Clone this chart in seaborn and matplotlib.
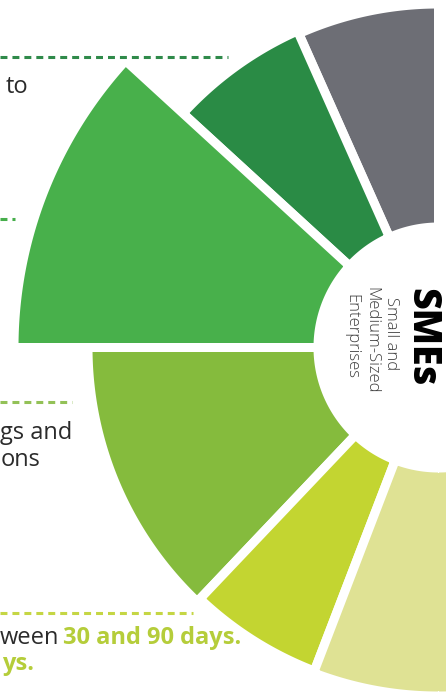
import numpy as np
import pandas as pd
import matplotlib
matplotlib.use("Agg")
import matplotlib.pyplot as plt
import seaborn as sns

# ---------------- data ----------------
segment_names = ["Segment 1", "Segment 2", "Segment 3", "Segment 4", "Segment 5", "Segment 6"]
segment_start_deg = [90, 114, 137.5, 180, 226.5, 249]
segment_end_deg = [114, 137.5, 180, 226.5, 249, 276]
segment_outer = [339, 342, 420, 346, 342, 344]
inner_radius = 125
segment_colors = ["#6D6E75", "#2A8B45", "#48B04B", "#85BB3D", "#C3D531", "#DFE294"]

center_title = "SMEs"
center_lines = ["Small and", "Medium-Sized", "Enterprises"]

leader_y = [57, 219, 402, 613]
leader_x_end = [228, 15, 72, 193]
leader_colors = ["#2F8A4A", "#46AE4B", "#93C157", "#C5D644"]

df = pd.DataFrame({
    "name": segment_names,
    "start": segment_start_deg,
    "end": segment_end_deg,
    "outer": segment_outer,
    "color": segment_colors,
})

# ---------------- style ----------------
sns.set_theme(style="white")
plt.rcParams["font.family"] = ["Open Sans", "DejaVu Sans"]
plt.rcParams["lines.scale_dashes"] = False

W, H, DPI = 446, 698, 100
fig = plt.figure(figsize=(W / DPI, H / DPI), dpi=DPI)
fig.patch.set_facecolor("white")

cx, cy = 438, 347       # centre of the rose in pixels (from top)
R = 440                 # radial axis limit, 1 data unit = 1 px
gap = 9                 # white gap between wedges, px

ax = fig.add_axes([(cx - R) / W, (H - cy - R) / H, 2 * R / W, 2 * R / H],
                  projection="polar")
for _, row in df.iterrows():
    th = np.deg2rad(np.linspace(row["start"], row["end"], 300))
    ax.fill_between(th, inner_radius - gap / 2, row["outer"] + gap / 2,
                    facecolor=row["color"], edgecolor="white",
                    linewidth=gap * 72 / DPI, joinstyle="miter")
ax.set_ylim(0, R)
ax.set_axis_off()

# ---------------- overlay for text / leaders ----------------
ov = fig.add_axes([0, 0, 1, 1])
ov.set_xlim(0, W)
ov.set_ylim(H, 0)
ov.set_axis_off()
ov.patch.set_alpha(0)

for y, xe, c in zip(leader_y, leader_x_end, leader_colors):
    sns.lineplot(x=[0, xe], y=[y, y], ax=ov, color=c, linewidth=2.2,
                 dashes=False, legend=False)
for line in ov.get_lines():
    line.set_dashes((5.0, 3.6))

txt_dark = "#2B2B2B"
lime = "#B5CD3A"
fs = 17
ov.text(28, 93, "to", ha="right", va="baseline", fontsize=fs, color=txt_dark)
ov.text(72, 439, "gs and", ha="right", va="baseline", fontsize=fs, color=txt_dark)
ov.text(40, 466, "ons", ha="right", va="baseline", fontsize=fs, color=txt_dark)
ov.text(59, 644, "ween", ha="right", va="baseline", fontsize=fs, color=txt_dark)
ov.text(63, 644, "30 and 90 days.", ha="left", va="baseline", fontsize=fs,
        color=lime, fontweight="bold")
ov.text(34, 670, "ys.", ha="right", va="baseline", fontsize=fs,
        color=lime, fontweight="bold")

ov.text(422, 337, center_title, rotation=-90, ha="center", va="center",
        fontsize=27, fontweight="heavy", color="black")
for xpos, ypos, s in zip([391, 371, 351], [334, 340, 337], center_lines):
    ov.text(xpos, ypos, s, rotation=-90, ha="center", va="center",
            fontsize=12, fontweight="light", color="#3E3E3E")

fig.savefig("out.png", dpi=DPI, facecolor="white")
